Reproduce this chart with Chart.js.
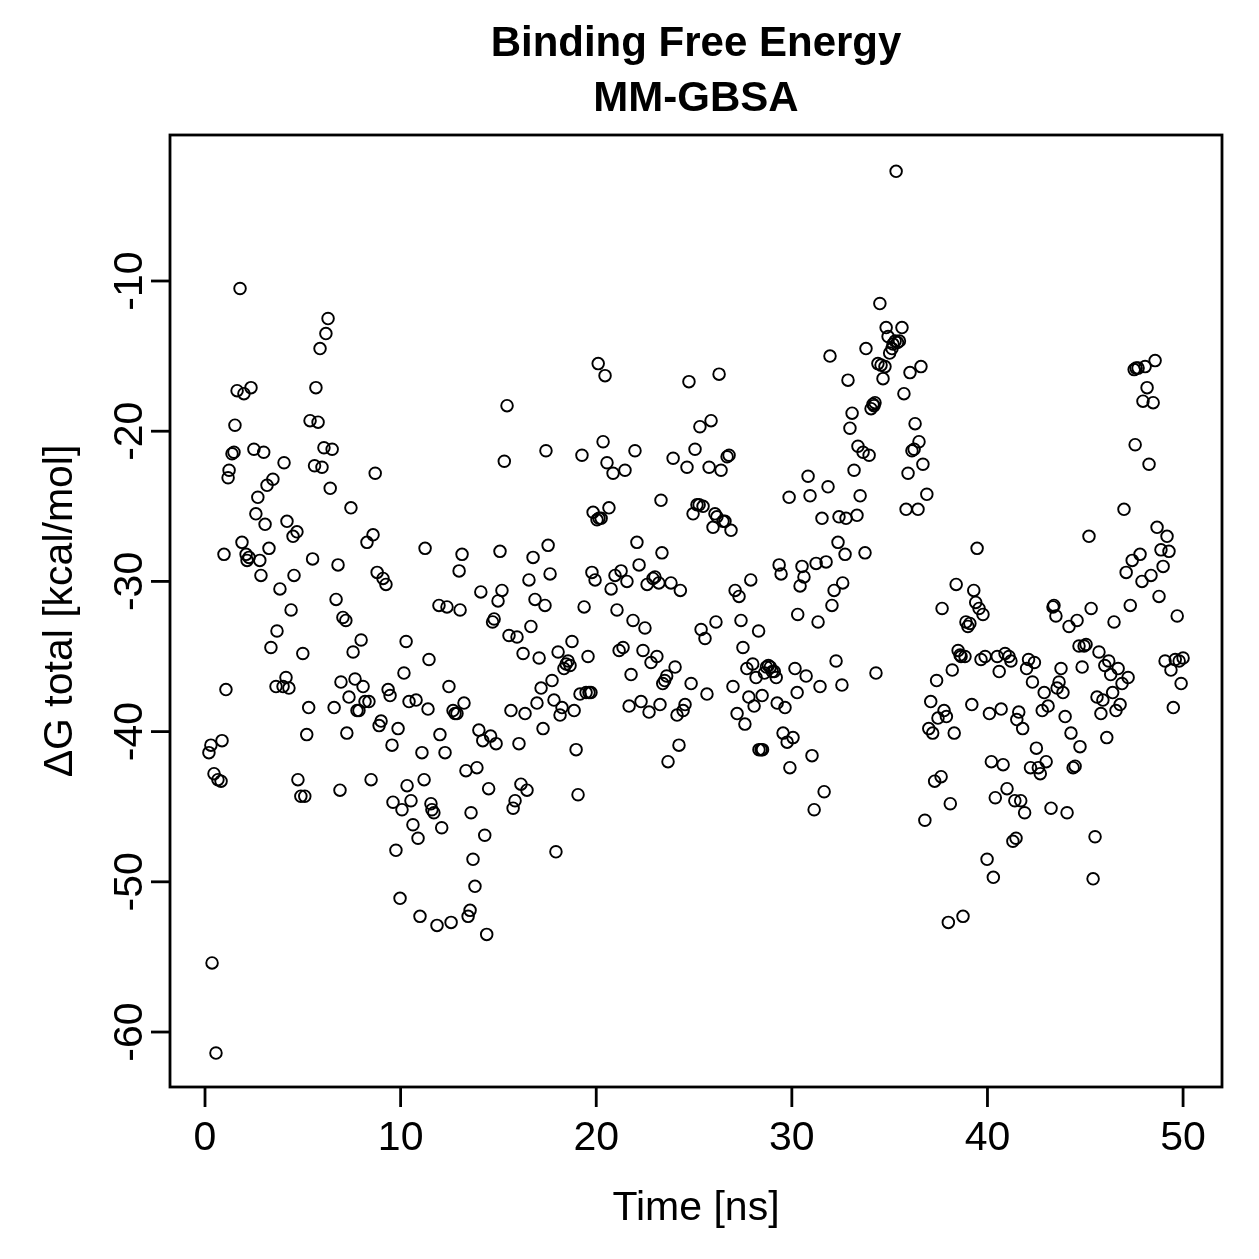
<!DOCTYPE html>
<html>
<head>
<meta charset="utf-8">
<script src="https://cdn.jsdelivr.net/npm/chart.js@4"></script>
<style>html,body{margin:0;padding:0;background:#fff}</style>
</head>
<body>
<canvas id="myChart" width="1259" height="1259"></canvas>
<script>
const titleLines = ["Binding Free Energy", "MM-GBSA"];
const xLabel = "Time [ns]";
const yLabel = "ΔG total [kcal/mol]";
const xTicks = [0, 10, 20, 30, 40, 50];
const yTicks = [-10, -20, -30, -40, -50, -60];

// time (ns) and dG total (kcal/mol)
const timeNs = [
0.2,0.3,0.36,0.46,0.56,0.66,0.82,0.87,0.97,1.07,1.18,1.23,1.38,1.48,1.53,1.64,1.79,1.89,1.99,2.1,
2.15,2.25,2.35,2.5,2.6,2.7,2.8,2.86,3.0,3.07,3.17,3.27,3.37,3.47,3.63,3.68,3.83,3.99,4.04,4.14,
4.19,4.29,4.4,4.5,4.55,4.7,4.75,4.9,5.0,5.1,5.2,5.3,5.37,5.5,5.6,5.67,5.78,5.88,5.98,6.08,
6.18,6.29,6.4,6.5,6.6,6.7,6.8,6.9,6.95,7.05,7.2,7.25,7.36,7.46,7.57,7.67,7.77,7.87,7.98,8.08,
8.18,8.28,8.38,8.49,8.59,8.7,8.8,8.9,9.0,9.1,9.25,9.36,9.46,9.56,9.61,9.76,9.87,9.97,10.07,10.17,
10.28,10.33,10.43,10.53,10.63,10.79,10.89,10.99,11.09,11.2,11.25,11.4,11.45,11.55,11.6,11.7,11.86,11.96,12.01,12.1,
12.27,12.37,12.47,12.58,12.68,12.78,12.88,12.99,13.04,13.14,13.24,13.34,13.45,13.55,13.6,13.7,13.8,13.9,14.0,14.1,
14.2,14.3,14.4,14.5,14.6,14.7,14.78,14.88,14.98,15.08,15.18,15.3,15.44,15.54,15.64,15.75,15.85,15.95,16.05,16.15,
16.26,16.36,16.46,16.56,16.66,16.77,16.87,16.97,17.08,17.18,17.28,17.38,17.43,17.54,17.64,17.74,17.84,17.94,18.05,18.15,
18.25,18.35,18.46,18.56,18.66,18.76,18.87,18.97,19.07,19.17,19.27,19.38,19.48,19.58,19.63,19.73,19.78,19.84,19.94,20.04,
20.1,20.14,20.25,20.35,20.45,20.55,20.65,20.76,20.86,20.96,21.06,21.17,21.27,21.37,21.47,21.57,21.68,21.78,21.88,21.98,
22.08,22.19,22.29,22.39,22.49,22.6,22.7,22.8,22.9,23.0,23.1,23.2,23.26,23.31,23.36,23.4,23.5,23.6,23.67,23.82,
23.93,24.03,24.13,24.23,24.3,24.44,24.54,24.64,24.74,24.85,24.95,25.05,25.15,25.26,25.3,25.36,25.46,25.56,25.66,25.77,
25.87,25.97,26.07,26.12,26.17,26.28,26.38,26.48,26.58,26.69,26.79,26.89,26.99,27.1,27.2,27.3,27.4,27.5,27.6,27.7,
27.8,27.9,28.0,28.07,28.17,28.3,28.32,28.43,28.48,28.5,28.6,28.7,28.8,28.9,29.0,29.1,29.2,29.25,29.35,29.45,
29.55,29.65,29.76,29.86,29.9,30.06,30.16,30.27,30.3,30.42,30.52,30.62,30.73,30.83,30.93,31.03,31.14,31.24,31.34,31.44,
31.54,31.65,31.75,31.85,31.95,32.05,32.16,32.26,32.36,32.41,32.56,32.6,32.72,32.77,32.87,32.97,33.08,33.18,33.33,33.38,
33.49,33.64,33.74,33.79,33.95,34.05,34.15,34.2,34.25,34.3,34.4,34.5,34.56,34.66,34.76,34.82,34.92,35.0,35.12,35.17,
35.28,35.33,35.4,35.5,35.63,35.73,35.84,35.94,36.04,36.14,36.25,36.3,36.45,36.5,36.6,36.7,36.8,36.9,37.0,37.1,
37.2,37.3,37.4,37.47,37.63,37.68,37.78,37.9,38.0,38.1,38.2,38.3,38.4,38.5,38.6,38.65,38.75,38.85,38.9,39.0,
39.1,39.2,39.3,39.4,39.47,39.57,39.67,39.77,39.88,39.98,40.1,40.2,40.3,40.4,40.5,40.6,40.7,40.8,40.9,41.0,
41.1,41.2,41.3,41.4,41.46,41.5,41.6,41.7,41.8,41.9,42.0,42.1,42.2,42.3,42.4,42.5,42.6,42.7,42.8,42.9,
43.0,43.1,43.25,43.35,43.4,43.5,43.56,43.66,43.76,43.86,43.97,44.07,44.17,44.27,44.38,44.48,44.58,44.68,44.73,44.84,
44.94,45.04,45.19,45.3,45.4,45.5,45.6,45.7,45.8,45.9,46.0,46.1,46.2,46.3,46.4,46.47,46.57,46.68,46.78,46.88,
46.98,47.09,47.19,47.3,47.4,47.5,47.55,47.6,47.7,47.8,47.9,47.95,48.06,48.16,48.26,48.36,48.47,48.57,48.67,48.77,
48.87,48.98,49.08,49.18,49.28,49.38,49.5,49.6,49.7,49.8,49.9,50.0
];
const dGTotal = [
-41.4,-40.9,-55.4,-42.8,-61.4,-43.2,-43.3,-40.6,-28.2,-37.2,-23.1,-22.6,-21.5,-21.4,-19.6,-17.3,-10.5,-27.4,-17.5,-28.2,
-28.6,-28.4,-17.1,-21.2,-25.5,-24.4,-28.6,-29.6,-21.4,-26.2,-23.6,-27.8,-34.4,-23.2,-37.0,-33.3,-30.5,-37.0,-22.1,-36.4,
-26.0,-37.1,-31.9,-27.0,-29.6,-26.7,-43.2,-44.3,-34.8,-44.3,-40.2,-38.4,-19.3,-28.5,-22.3,-17.1,-19.4,-14.5,-22.4,-21.1,
-13.5,-12.5,-23.8,-21.2,-38.4,-31.2,-28.9,-43.9,-36.7,-32.4,-32.6,-40.1,-37.7,-25.1,-34.7,-36.5,-38.6,-38.6,-33.9,-37.0,
-38.0,-27.4,-38.0,-43.2,-26.9,-22.8,-29.4,-39.6,-39.3,-29.8,-30.2,-37.2,-37.6,-40.9,-44.7,-47.9,-39.8,-51.1,-45.2,-36.1,
-34.0,-43.6,-38.0,-44.6,-46.2,-37.9,-47.1,-52.3,-41.4,-43.2,-27.8,-38.5,-35.2,-44.8,-45.2,-45.4,-52.9,-31.6,-40.2,-46.4,
-41.4,-31.7,-37.0,-52.7,-38.6,-38.8,-38.8,-29.3,-31.9,-28.2,-38.1,-42.6,-52.3,-51.9,-45.4,-48.5,-50.3,-42.4,-39.9,-30.7,
-40.6,-46.9,-53.5,-43.8,-40.3,-32.7,-32.5,-40.8,-31.3,-28.0,-30.6,-22.0,-18.3,-33.6,-38.6,-45.1,-44.6,-33.7,-40.8,-43.5,
-34.8,-38.8,-43.9,-29.9,-33.0,-28.4,-31.2,-38.1,-35.1,-37.1,-39.8,-31.6,-21.3,-27.6,-29.5,-36.6,-37.9,-48.0,-34.7,-38.9,
-38.4,-35.8,-35.5,-35.3,-35.6,-34.0,-38.6,-41.2,-44.2,-37.5,-21.6,-31.7,-37.4,-35.0,-37.4,-37.4,-29.4,-25.4,-29.9,-25.9,
-15.5,-25.8,-25.8,-20.7,-16.3,-22.1,-25.1,-30.5,-22.8,-29.6,-31.9,-34.6,-29.3,-34.4,-22.6,-30.0,-38.3,-36.2,-32.6,-21.3,
-27.4,-28.9,-38.0,-34.6,-33.1,-30.2,-38.7,-35.4,-29.8,-29.7,-35.0,-30.1,-38.2,-24.6,-28.1,-36.8,-36.6,-36.3,-42.0,-30.1,
-21.8,-35.7,-38.9,-40.9,-30.6,-38.6,-38.2,-22.4,-16.7,-36.8,-25.5,-21.2,-24.9,-24.9,-19.7,-33.2,-25.0,-33.8,-37.5,-22.4,
-19.3,-26.4,-25.5,-32.7,-25.7,-16.2,-22.6,-26.0,-26.0,-21.7,-21.6,-26.6,-37.0,-30.6,-38.8,-31.0,-32.6,-34.4,-39.5,-35.8,
-37.7,-29.9,-35.5,-38.3,-36.4,-33.3,-41.2,-41.2,-37.6,-41.2,-36.1,-35.7,-35.6,-35.7,-36.0,-36.0,-36.4,-38.1,-28.9,-29.5,
-40.1,-38.4,-40.7,-24.4,-42.4,-40.4,-35.8,-37.4,-32.2,-30.3,-29.0,-29.7,-36.3,-23.0,-24.3,-41.6,-45.2,-28.8,-32.7,-37.0,
-25.8,-44.0,-28.7,-23.7,-15.0,-31.6,-30.6,-35.3,-27.4,-25.7,-36.9,-30.1,-28.2,-25.8,-16.6,-19.8,-18.8,-22.6,-25.6,-21.0,
-24.3,-21.4,-28.1,-14.5,-21.6,-18.5,-18.2,-18.3,-18.1,-36.1,-15.5,-11.5,-15.6,-16.5,-15.7,-13.1,-13.7,-14.8,-14.5,-14.2,
-14.0,-2.7,-14.1,-14.0,-13.1,-17.5,-25.2,-22.8,-16.1,-21.3,-21.2,-19.5,-25.2,-20.7,-15.7,-22.2,-45.9,-24.2,-39.8,-38.0,
-40.1,-43.3,-36.6,-39.1,-43.0,-31.8,-38.6,-39.0,-52.7,-44.8,-35.9,-40.1,-30.2,-34.6,-34.9,-35.0,-52.3,-35.0,-32.7,-33.0,
-32.8,-38.2,-30.6,-31.4,-27.8,-31.8,-35.2,-32.2,-35.0,-48.5,-38.8,-42.0,-49.7,-44.4,-35.0,-36.0,-38.5,-42.2,-34.8,-43.8,
-35.0,-35.3,-47.3,-44.6,-47.1,-39.2,-38.7,-44.6,-39.8,-45.4,-35.8,-35.2,-42.4,-36.7,-35.4,-41.1,-42.4,-42.8,-38.6,-37.4,
-42.0,-38.3,-45.1,-31.7,-31.6,-32.3,-37.1,-36.7,-35.8,-37.4,-39.0,-45.4,-33.0,-40.1,-42.4,-42.3,-32.6,-34.3,-41.0,-35.7,
-34.3,-34.2,-27.0,-31.8,-49.8,-47.0,-37.7,-34.7,-38.8,-37.9,-35.6,-40.4,-35.3,-36.2,-37.4,-32.7,-38.6,-35.8,-38.2,-36.8,
-25.2,-29.4,-36.4,-31.6,-28.6,-15.9,-20.9,-15.8,-15.8,-28.2,-30.0,-18.0,-15.7,-17.1,-22.2,-29.6,-18.1,-15.3,-26.4,-31.0,
-27.9,-29.0,-35.3,-27.0,-28.0,-35.9,-38.4,-35.2,-32.3,-35.3,-36.8,-35.1
];

const FONT = '"Liberation Sans", Arial, Helvetica, sans-serif';

// R style frame: box, outward ticks, rotated y labels
const rFrame = {
    id: 'rFrame',
    afterDraw(chart) {
        const ctx = chart.ctx;
        const a = chart.chartArea;
        const sx = chart.scales.x, sy = chart.scales.y;
        ctx.save();
        ctx.strokeStyle = '#000';
        ctx.fillStyle = '#000';
        ctx.lineWidth = 2.8;
        ctx.strokeRect(a.left, a.top, a.right - a.left, a.bottom - a.top);

        ctx.font = '41px ' + FONT;
        ctx.textAlign = 'center';
        ctx.textBaseline = 'alphabetic';
        xTicks.forEach(v => {
            const px = sx.getPixelForValue(v);
            ctx.beginPath();
            ctx.moveTo(px, a.bottom);
            ctx.lineTo(px, a.bottom + 20);
            ctx.stroke();
            ctx.fillText(String(v), px, a.bottom + 63);
        });
        yTicks.forEach(v => {
            const py = sy.getPixelForValue(v);
            ctx.beginPath();
            ctx.moveTo(a.left, py);
            ctx.lineTo(a.left - 19, py);
            ctx.stroke();
            ctx.save();
            ctx.translate(a.left - 28, py);
            ctx.rotate(-Math.PI / 2);
            ctx.fillText(String(v), 0, 0);
            ctx.restore();
        });

        const cx = (a.left + a.right) / 2;
        const cy = (a.top + a.bottom) / 2;
        ctx.fillText(xLabel, cx, a.bottom + 133);
        ctx.save();
        ctx.translate(72, cy);
        ctx.rotate(-Math.PI / 2);
        ctx.fillText(yLabel, 0, 0);
        ctx.restore();

        ctx.font = 'bold 42px ' + FONT;
        ctx.fillText(titleLines[0], cx, 56);
        ctx.fillText(titleLines[1], cx, 111);
        ctx.restore();
    }
};

new Chart(document.getElementById("myChart"), {
    type: 'scatter',
    data: {
        datasets: [{
            label: "dG",
            data: timeNs.map((t, i) => ({x: t, y: dGTotal[i]})),
            pointStyle: 'circle',
            pointRadius: 5.8,
            pointBorderWidth: 1.9,
            borderColor: '#000',
            backgroundColor: 'rgba(0,0,0,0)',
        }]
    },
    options: {
        responsive: false,
        animation: false,
        layout: {
            padding: {left: 170, right: 37, top: 135, bottom: 172},
        },
        plugins: {
            legend: {display: false},
            tooltip: {enabled: false},
        },
        scales: {
            x: {type: 'linear', min: -1.79, max: 51.99, display: false},
            y: {type: 'linear', min: -63.66, max: -0.28, display: false},
        }
    },
    plugins: [rFrame]
});
</script>
</body>
</html>
